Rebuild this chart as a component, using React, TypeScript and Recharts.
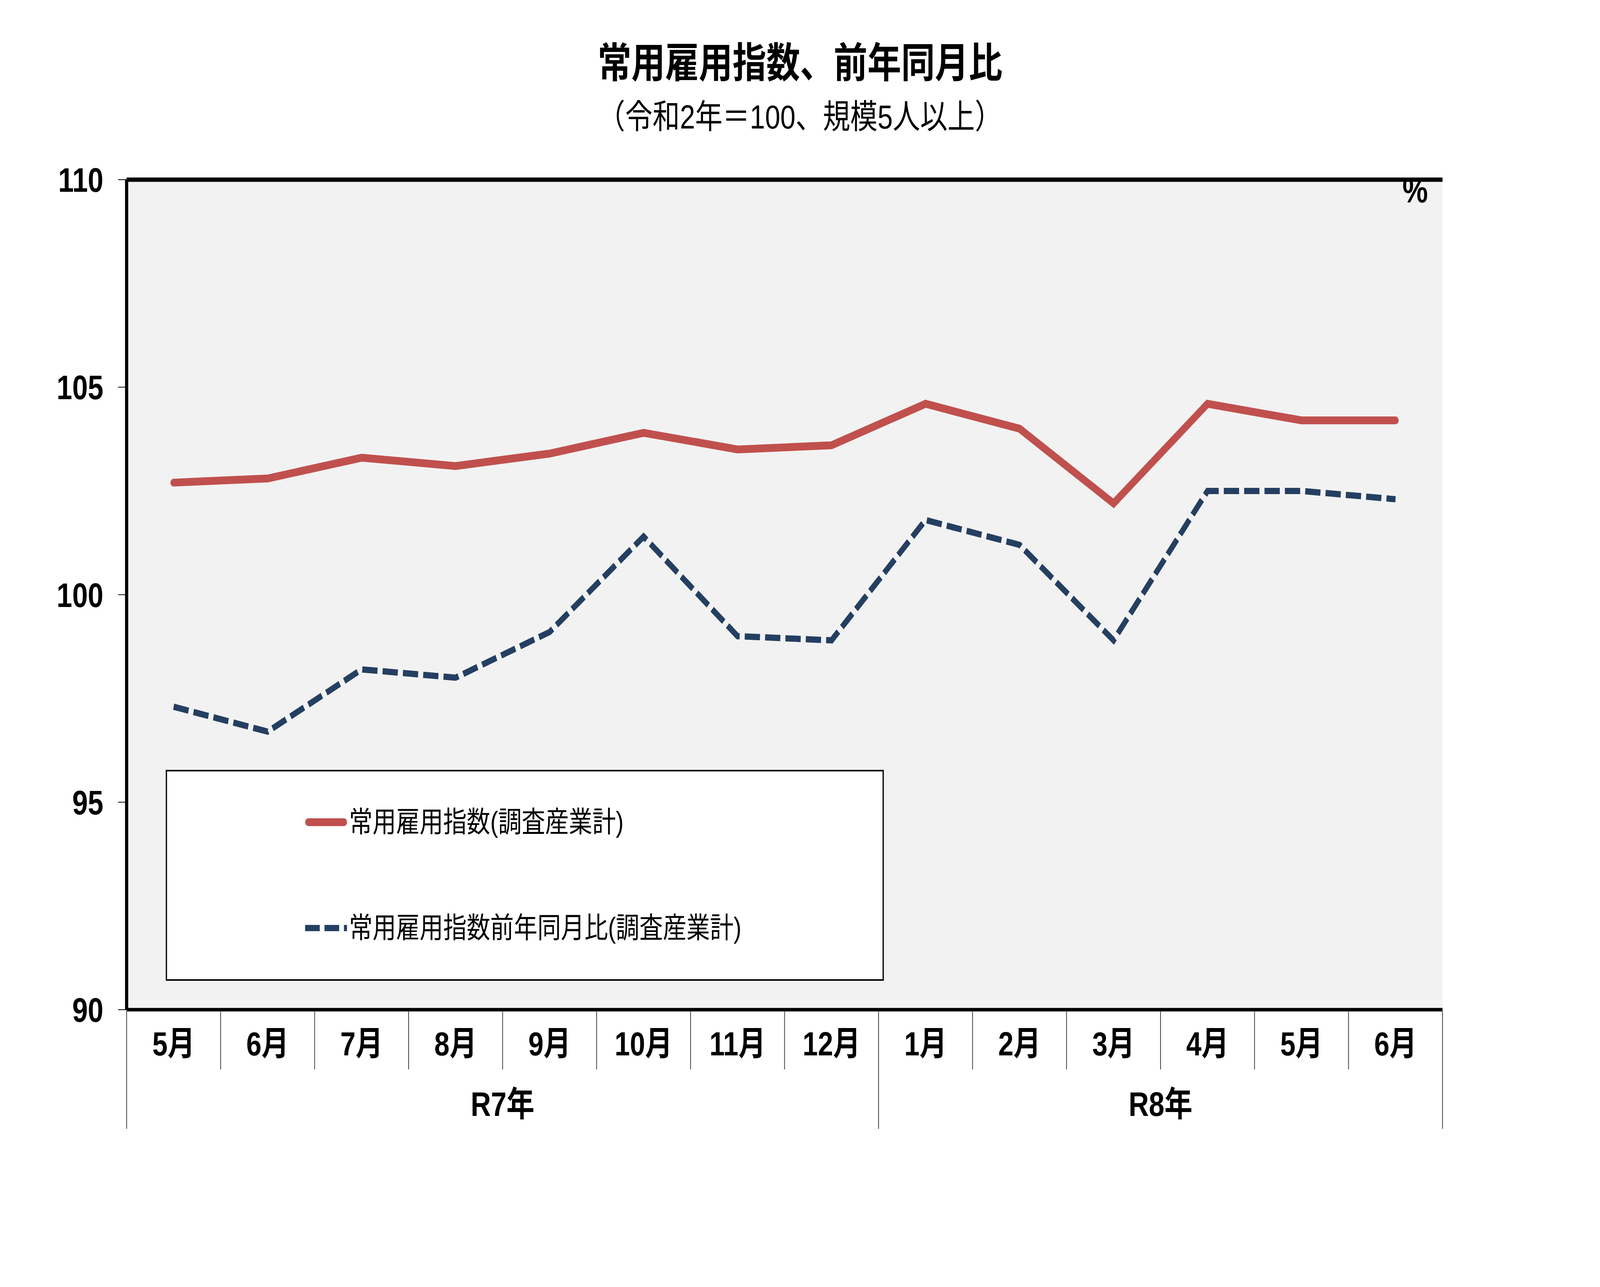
import React from 'react';
import { LineChart, Line, XAxis, YAxis, CartesianGrid, ReferenceLine, Legend } from 'recharts';

// ---- data ----
const months = ['5月', '6月', '7月', '8月', '9月', '10月', '11月', '12月', '1月', '2月', '3月', '4月', '5月', '6月'];
const employmentIndex = [102.7, 102.8, 103.3, 103.1, 103.4, 103.9, 103.5, 103.6, 104.6, 104.0, 102.2, 104.6, 104.2, 104.2];
const yoyIndex = [97.3, 96.7, 98.2, 98.0, 99.1, 101.4, 99.0, 98.9, 101.8, 101.2, 98.9, 102.5, 102.5, 102.3];
const yTicks = [90, 95, 100, 105, 110];
const groupLabels = ['R7年', 'R8年'];
const groupStarts = [0, 8];
const groupEnds = [7, 13];

const seriesNames = ['常用雇用指数(調査産業計)', '常用雇用指数前年同月比(調査産業計)'];
const title = '常用雇用指数、前年同月比';
const subtitle = '（令和2年＝100、規模5人以上）';

// ---- layout ----
const W = 5029;
const H = 3295;
const PLOT_L = 398;
const PLOT_R = 4534;
const PLOT_T = 460;
const PLOT_B = 2585;
const CAT_W = (PLOT_R - PLOT_L) / months.length;
const FONT = '"Liberation Sans", "Noto Sans CJK JP", sans-serif';
const RED = '#C0504D';
const BLUE = '#243F61';

const data = months.map((m, i) => ({
  key: `${i}`,
  month: m,
  idx: employmentIndex[i],
  yoy: yoyIndex[i],
}));

const XTick = (props: any) => {
  const { x, index } = props;
  const half = CAT_W / 2;
  const isGroupStart = groupStarts.includes(index);
  const gi = groupStarts.indexOf(index);
  const isLast = index === months.length - 1;
  return (
    <g>
      <line
        x1={x - half}
        x2={x - half}
        y1={PLOT_B + 4}
        y2={isGroupStart ? 2890 : 2738}
        stroke="#444"
        strokeWidth={2.5}
      />
      {isLast && (
        <line x1={x + half} x2={x + half} y1={PLOT_B + 4} y2={2890} stroke="#444" strokeWidth={2.5} />
      )}
      <text
        x={x}
        y={2672}
        textAnchor="middle"
        dominantBaseline="central"
        fontSize={86}
        fontWeight="bold"
        fontFamily={FONT}
        fill="#000"
      >
        {months[index]}
      </text>
      {gi >= 0 && (
        <text
          x={x + ((groupEnds[gi] - groupStarts[gi]) / 2) * CAT_W}
          y={2826}
          textAnchor="middle"
          dominantBaseline="central"
          fontSize={88}
          fontWeight="bold"
          fontFamily={FONT}
          fill="#000"
        >
          {groupLabels[gi]}
        </text>
      )}
    </g>
  );
};

const LegendBox = () => {
  const entries = [
    { name: seriesNames[0], color: RED, width: 20, dash: undefined as string | undefined, cap: 'round', cy: 130 },
    { name: seriesNames[1], color: BLUE, width: 16, dash: '46 15', cap: 'butt', cy: 401 },
  ];
  return (
    <div style={{ position: 'relative', width: '100%', height: '100%' }}>
      {entries.map((e) => (
        <div
          key={e.name}
          style={{
            position: 'absolute',
            left: 434,
            top: e.cy - 50,
            height: 100,
            display: 'flex',
            alignItems: 'center',
            whiteSpace: 'nowrap',
          }}
        >
          <svg width={132} height={30} style={{ display: 'block' }}>
            <line
              x1={e.cap === 'round' ? 10 : 0}
              x2={e.cap === 'round' ? 122 : 132}
              y1={15}
              y2={15}
              stroke={e.color}
              strokeWidth={e.width}
              strokeDasharray={e.dash}
              strokeLinecap={e.cap as any}
            />
          </svg>
          <span
            style={{
              marginLeft: 6,
              fontSize: 74,
              lineHeight: '100px',
              fontFamily: FONT,
              color: '#000',
            }}
          >
            {e.name}
          </span>
        </div>
      ))}
    </div>
  );
};

export default function App() {
  const vw = typeof window !== 'undefined' ? window.innerWidth : W;
  const vh = typeof window !== 'undefined' ? window.innerHeight : H;
  const sx = vw / W;
  const sy = vh / H;
  return (
    <div style={{ position: 'fixed', left: 0, top: 0, width: vw, height: vh, overflow: 'hidden', background: '#fff' }}>
      <div
        style={{
          position: 'absolute',
          left: 0,
          top: 0,
          width: W,
          height: H,
          background: '#fff',
          fontFamily: FONT,
          transform: `scale(${sx}, ${sy})`,
          transformOrigin: '0 0',
        }}
      >
        <LineChart
          width={W}
          height={H}
          data={data}
          margin={{ top: PLOT_T, right: W - PLOT_R, bottom: 300, left: PLOT_L - 100 }}
        >
          <CartesianGrid vertical={false} stroke="#868686" strokeWidth={4} fill="#F2F2F2" fillOpacity={1} />
          <XAxis
            dataKey="key"
            interval={0}
            height={H - PLOT_B - 300}
            padding={{ left: CAT_W / 2, right: CAT_W / 2 }}
            axisLine={false}
            tickLine={false}
            tick={<XTick />}
          />
          <YAxis
            yAxisId="left"
            width={100}
            domain={[90, 110]}
            ticks={yTicks}
            interval={0}
            allowDataOverflow
            tickSize={27}
            tickMargin={46}
            axisLine={{ stroke: '#000', strokeWidth: 10 }}
            tickLine={{ stroke: '#000', strokeWidth: 2 }}
            tick={{ fontSize: 88, fontWeight: 'bold', fill: '#000', fontFamily: FONT }}
          />
          <YAxis
            yAxisId="right"
            orientation="right"
            width={0}
            domain={[90, 110]}
            ticks={yTicks}
            tick={false}
            tickLine={false}
            axisLine={{ stroke: '#000', strokeWidth: 9 }}
          />
          <ReferenceLine yAxisId="left" y={110} stroke="#000" strokeWidth={11} />
          <ReferenceLine yAxisId="left" y={90} stroke="#000" strokeWidth={9} />
          <Line
            yAxisId="left"
            type="linear"
            dataKey="idx"
            name={seriesNames[0]}
            stroke={RED}
            strokeWidth={20}
            strokeLinecap="round"
            dot={false}
            activeDot={false}
            isAnimationActive={false}
          />
          <Line
            yAxisId="left"
            type="linear"
            dataKey="yoy"
            name={seriesNames[1]}
            stroke={BLUE}
            strokeWidth={16}
            strokeDasharray="48 16"
            dot={false}
            activeDot={false}
            isAnimationActive={false}
          />
          <Legend
            layout="vertical"
            verticalAlign="middle"
            align="center"
            content={() => <LegendBox />}
            wrapperStyle={{
              left: 521,
              top: 1971,
              width: 2257,
              height: 540,
              border: '4px solid #000',
              background: '#fff',
              boxSizing: 'border-box',
            }}
          />
        </LineChart>
        <div
          style={{
            position: 'absolute',
            left: 0,
            top: 108,
            width: W,
            textAlign: 'center',
            fontSize: 106,
            lineHeight: '106px',
            fontWeight: 'bold',
            fontFamily: FONT,
            color: '#000',
            whiteSpace: 'nowrap',
          }}
        >
          {title}
        </div>
        <div
          style={{
            position: 'absolute',
            left: 0,
            top: 256,
            width: W,
            textAlign: 'center',
            fontSize: 86,
            lineHeight: '86px',
            fontFamily: FONT,
            color: '#000',
            whiteSpace: 'nowrap',
          }}
        >
          {subtitle}
        </div>
        <div
          style={{
            position: 'absolute',
            left: 4448 - 60,
            top: 487 - 50,
            width: 120,
            textAlign: 'center',
            fontSize: 90,
            lineHeight: '100px',
            fontWeight: 'bold',
            fontFamily: FONT,
            color: '#000',
          }}
        >
          %
        </div>
      </div>
    </div>
  );
}
